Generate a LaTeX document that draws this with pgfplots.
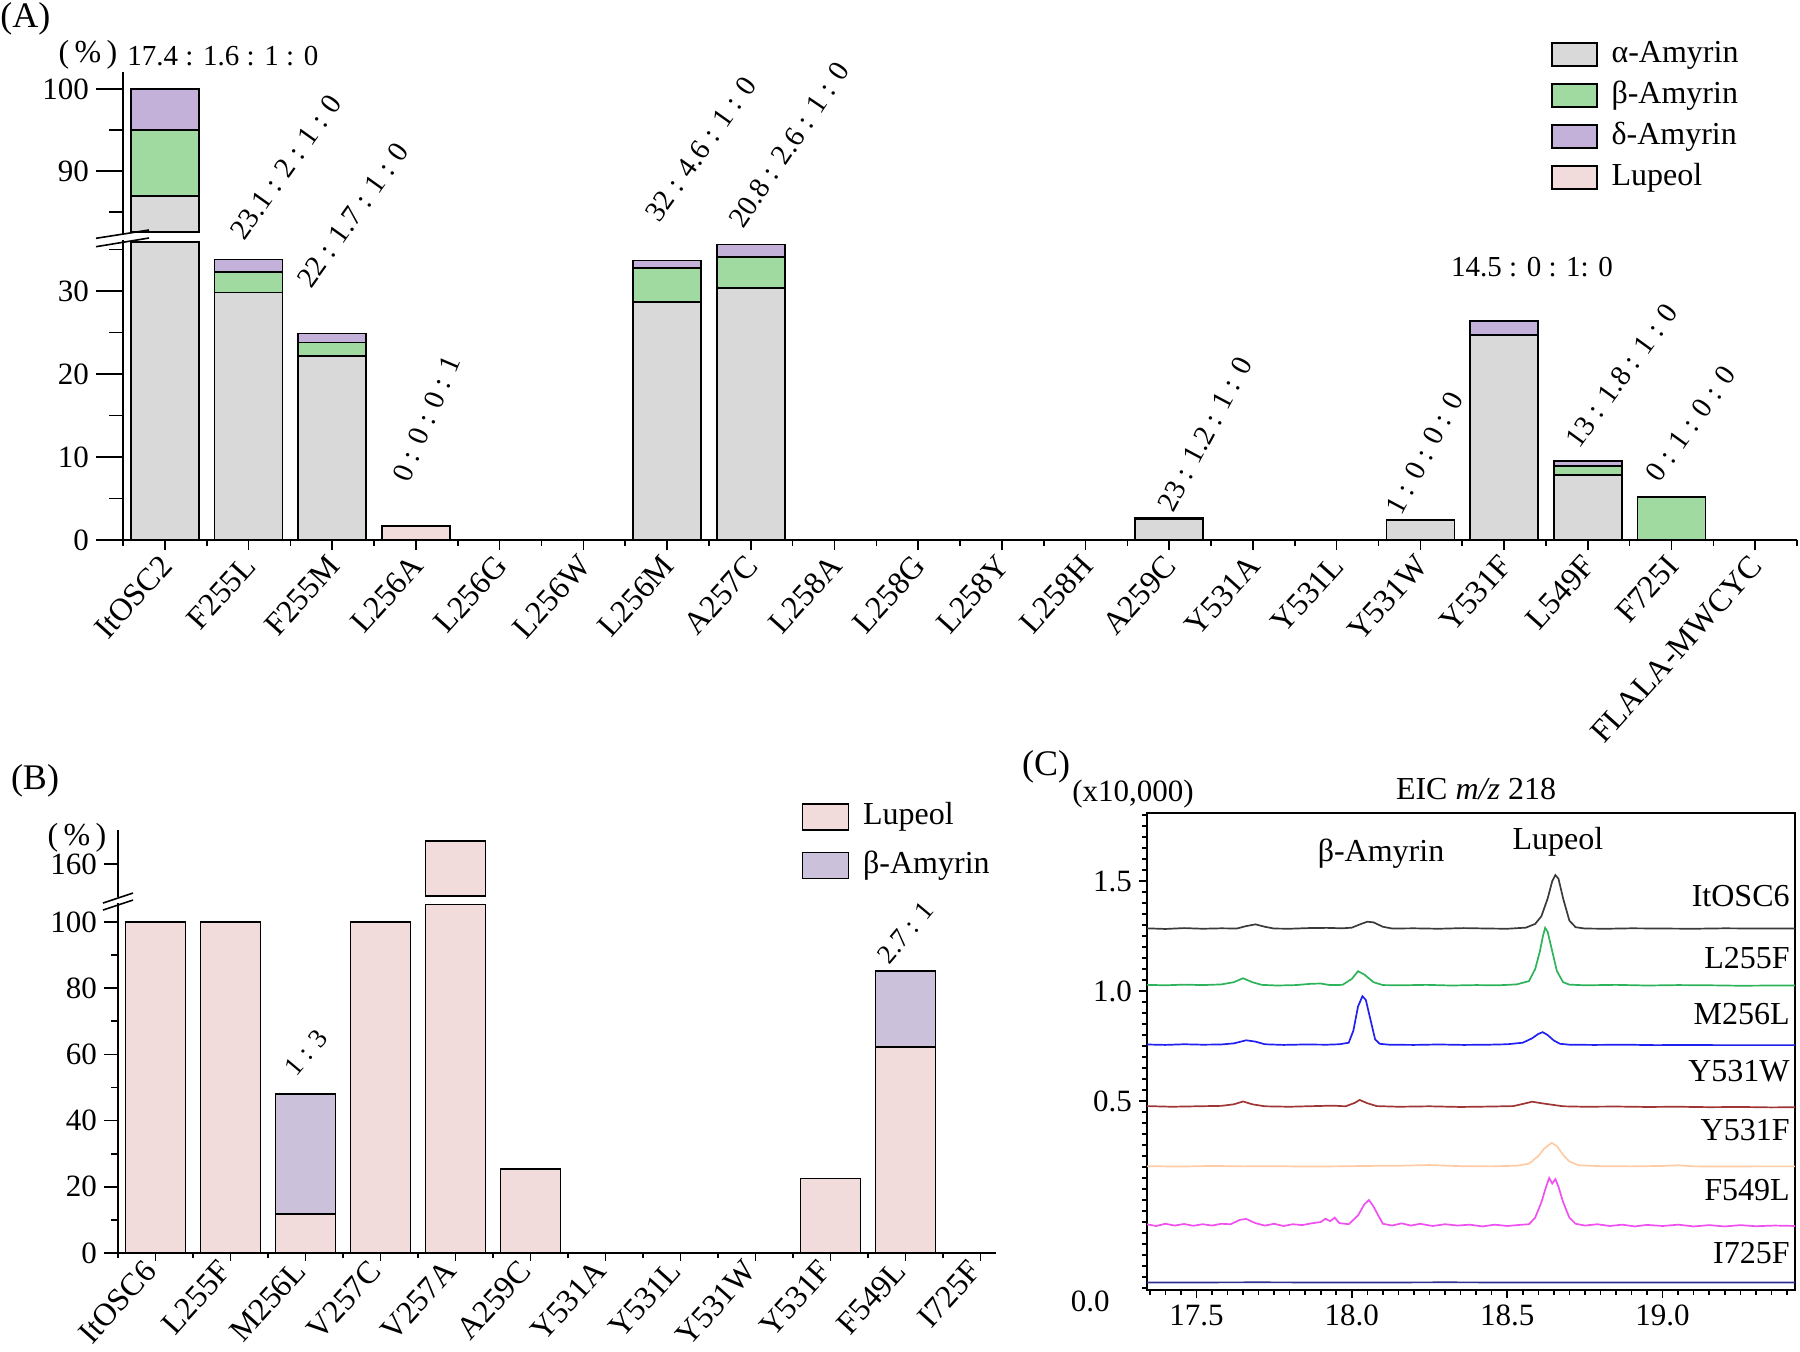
\documentclass[border=0pt]{standalone}
\usepackage{pgfplots}
\usepackage{pgfplotstable}
\pgfplotsset{compat=1.18}
\usepackage{fontspec}
\setmainfont{Liberation Serif}

\definecolor{cgray}{HTML}{D9D9D9}
\definecolor{cgreen}{HTML}{A0DAA0}
\definecolor{cpurple}{HTML}{C3B1D9}
\definecolor{cpink}{HTML}{F2DCDB}
\definecolor{cpurpleB}{HTML}{CCC1DA}
\definecolor{tk}{HTML}{3A3A3A}
\definecolor{tgreen}{HTML}{2DB35A}
\definecolor{tblue}{HTML}{2020F0}
\definecolor{tred}{HTML}{A03535}
\definecolor{tpeach}{HTML}{FFCBA4}
\definecolor{tmag}{HTML}{F050F0}
\definecolor{tnavy}{HTML}{303090}

\newcommand{\tfont}{\fontsize{16}{19}\selectfont}
\newcommand{\afont}{\fontsize{14.5}{17}\selectfont}
\newcommand{\bfontr}{\fontsize{13.5}{16}\selectfont}
\newcommand{\tkfont}{\fontsize{15.5}{18}\selectfont}
\newcommand{\pfont}{\fontsize{18}{21}\selectfont}

\pgfplotsset{
  myaxis/.style={scale only axis, anchor=south west, tick align=outside,
    axis line style={line width=1pt},
    every tick/.append style={black, line width=0.8pt},
    ticklabel style={font=\tkfont},
    /pgf/number format/assume math mode=true},
  boxlegendA/.style={legend image code/.code={\draw[##1,/tikz/.cd,line width=0.8pt] (0pt,-5.75pt) rectangle (22.5pt,5.75pt);}},
  boxlegendB/.style={legend image code/.code={\draw[##1,/tikz/.cd,line width=0.8pt] (0pt,-6.5pt) rectangle (23pt,6.5pt);}},
  barA/.style={draw=black, line width=0.8pt},
}

% Panel A (percent): alpha, beta, delta amyrin, lupeol
% ItOSC2 alpha = 87, truncated at the axis break (35.9) in the lower part
\pgfplotstableread{
x a b d l
0 35.9 0 0 0
1 29.8 2.5 1.5 0
2 22.2 1.6 1.1 0
3 0 0 0 1.7
4 0 0 0 0
5 0 0 0 0
6 28.7 4.1 0.9 0
7 30.4 3.7 1.5 0
8 0 0 0 0
9 0 0 0 0
10 0 0 0 0
11 0 0 0 0
12 2.45 0.13 0.11 0
13 0 0 0 0
14 0 0 0 0
15 2.4 0 0 0
16 24.7 0 1.7 0
17 7.8 1.1 0.65 0
18 0 5.2 0 0
19 0 0 0 0
}\dataA
\pgfplotstableread{
x a b d
0 87 8 5
}\dataAtop

% Panel B (percent): lupeol, beta-amyrin; V257A = 167, truncated at the break in the lower part
\pgfplotstableread{
x l b
0 100 0
1 100 0
2 11.8 36.2
3 100 0
4 105.3 0
5 25.3 0
6 0 0
7 0 0
8 0 0
9 22.5 0
10 62.2 23.0
11 0 0
}\dataB
\pgfplotstableread{
x l
4 167
}\dataBtop

\begin{document}
\begin{tikzpicture}
\useasboundingbox (0,0) rectangle (900pt,-675.5pt);

% ================= Panel A =================
% lower y axis
\begin{axis}[myaxis, at={(61.5pt,-270pt)}, width=837pt, height=149.8pt,
  xmin=-0.5, xmax=19.5, ymin=0, ymax=36.1,
  axis x line=none, axis y line*=left, xtick=\empty,
  ytick={0,10,20,30}, minor ytick={5,15,25,35},
  major tick length=13.5pt, minor tick length=7pt]
\end{axis}
% lower x axis with bars
\begin{axis}[myaxis, at={(61.5pt,-270pt)}, width=837pt, height=149.8pt,
  xmin=-0.5, xmax=19.5, ymin=0, ymax=36.1,
  axis y line=none, axis x line*=bottom, ytick=\empty,
  xtick={0,...,19},
  xticklabels={ItOSC2,F255L,F255M,L256A,L256G,L256W,L256M,A257C,L258A,L258G,L258Y,L258H,A259C,Y531A,Y531L,Y531W,Y531F,L549F,F725I,FLALA-MWCYC},
  minor xtick={-0.5,0.5,...,19.5},
  major tick length=5pt, minor tick length=3pt,
  xticklabel style={rotate=48, anchor=east, font=\tfont, yshift=-4pt},
  ybar stacked, bar width=34pt,
  every axis plot post/.append style={boxlegendA},
  legend cell align=left,
  legend style={at={(axis description cs:0.853,1.681)}, anchor=north west,
    draw=none, fill=none, inner sep=0pt, outer sep=0pt, font=\tfont,
    row sep=2.5pt, column sep=6pt,
    nodes={inner sep=1pt, text height=12pt, text depth=4pt}}]
\addplot[fill=cgray, barA] table[x=x,y=a] {\dataA};
\addplot[fill=cgreen, barA] table[x=x,y=b] {\dataA};
\addplot[fill=cpurple, barA] table[x=x,y=d] {\dataA};
\addplot[fill=cpink, barA] table[x=x,y=l] {\dataA};
\legend{α-Amyrin,β-Amyrin,δ-Amyrin,Lupeol}
\end{axis}
% upper part (above the break)
\begin{axis}[myaxis, at={(61.5pt,-116.75pt)}, width=837pt, height=80.9pt,
  xmin=-0.5, xmax=19.5, ymin=82.4, ymax=102.1,
  axis x line=none, axis y line*=left, xtick=\empty,
  ytick={90,100}, minor ytick={85,95},
  major tick length=13.5pt, minor tick length=7pt,
  ybar stacked, bar width=34pt]
\addplot[draw=none, fill=none] coordinates {(0,82.6)};
\addplot[fill=cgray, barA] table[x=x, y expr=\thisrow{a}-82.6] {\dataAtop};
\addplot[fill=cgreen, barA] table[x=x,y=b] {\dataAtop};
\addplot[fill=cpurple, barA] table[x=x,y=d] {\dataAtop};
\end{axis}
\draw[line width=0.8pt] (48pt,-119.15pt) -- (74.5pt,-115pt);
\draw[line width=0.8pt] (48pt,-123.35pt) -- (74.5pt,-119pt);

\node[font=\pfont, anchor=west, inner sep=0pt] at (0pt,-9.5pt) {(A)};
\node[font=\tfont, inner sep=0pt] at (44pt,-27.5pt) {(\,\%\,)};
\node[font=\afont, anchor=west, inner sep=0pt] at (63.5pt,-28pt) {17.4 : 1.6 : 1 : 0};
\node[font=\afont, anchor=south west, inner sep=0pt, rotate=54.5] at (122.5pt,-121pt) {23.1 : 2 : 1 : 0};
\node[font=\afont, anchor=south west, inner sep=0pt, rotate=54.5] at (156pt,-145pt) {22 : 1.7 : 1 : 0};
\node[font=\afont, anchor=south west, inner sep=0pt, rotate=67] at (205pt,-242pt) {0 : 0 : 0 : 1};
\node[font=\afont, anchor=south west, inner sep=0pt, rotate=54.6] at (330pt,-112pt) {32 : 4.6 : 1 : 0};
\node[font=\afont, anchor=south west, inner sep=0pt, rotate=56] at (372pt,-115pt) {20.8 : 2.6 : 1 : 0};
\node[font=\afont, anchor=south west, inner sep=0pt, rotate=62] at (587pt,-257pt) {23 : 1.2 : 1 : 0};
\node[font=\afont, anchor=south west, inner sep=0pt, rotate=62] at (701pt,-258.5pt) {1 : 0 : 0 : 0};
\node[font=\afont, inner sep=0pt] at (766pt,-133.5pt) {14.5 : 0 : 1: 0};
\node[font=\afont, anchor=south west, inner sep=0pt, rotate=54] at (790pt,-225pt) {13 : 1.8 : 1 : 0};
\node[font=\afont, anchor=south west, inner sep=0pt, rotate=54.4] at (830pt,-242pt) {0 : 1 : 0 : 0};

% ================= Panel B =================
\begin{axis}[myaxis, at={(59pt,-626.5pt)}, width=438.75pt, height=174.8pt,
  xmin=-0.5, xmax=11.2, ymin=0, ymax=105.6,
  axis x line=none, axis y line*=left, xtick=\empty,
  ytick={0,20,...,100}, minor ytick={10,30,...,90},
  major tick length=7pt, minor tick length=3.5pt]
\end{axis}
\begin{axis}[myaxis, at={(59pt,-626.5pt)}, width=438.75pt, height=174.8pt,
  xmin=-0.5, xmax=11.2, ymin=0, ymax=105.6,
  axis y line=none, axis x line*=bottom, ytick=\empty,
  xtick={0,...,11},
  xticklabels={ItOSC6,L255F,M256L,V257C,V257A,A259C,Y531A,Y531L,Y531W,Y531F,F549L,I725F},
  minor xtick={-0.5,0.5,...,10.5},
  major tick length=4pt, minor tick length=2.5pt,
  xticklabel style={rotate=48, anchor=east, font=\tfont, yshift=0.5pt},
  ybar stacked, bar width=30pt,
  every axis plot post/.append style={boxlegendB},
  legend cell align=left,
  legend style={at={(axis description cs:0.779,1.299)}, anchor=north west,
    draw=none, fill=none, inner sep=0pt, outer sep=0pt, font=\tfont,
    row sep=6.25pt, column sep=6pt,
    nodes={inner sep=1pt, text height=12pt, text depth=4pt}}]
\addplot[fill=cpink, barA] table[x=x,y=l] {\dataB};
\addplot[fill=cpurpleB, barA] table[x=x,y=b] {\dataB};
\legend{Lupeol,β-Amyrin}
\end{axis}
\begin{axis}[myaxis, at={(59pt,-448.5pt)}, width=438.75pt, height=33.4pt,
  xmin=-0.5, xmax=11.2, ymin=150, ymax=170.2,
  axis x line=none, axis y line*=left, xtick=\empty,
  ytick={160}, major tick length=7pt,
  ybar stacked, bar width=30pt]
\addplot[draw=none, fill=none] coordinates {(4,150.3)};
\addplot[fill=cpink, barA] table[x=x, y expr=\thisrow{l}-150.3] {\dataBtop};
\end{axis}
\draw[line width=0.8pt] (51.5pt,-451.5pt) -- (66.5pt,-446.5pt);
\draw[line width=0.8pt] (51.5pt,-455pt) -- (66.5pt,-450pt);

\node[font=\pfont, inner sep=0pt] at (17.5pt,-390.5pt) {(B)};
\node[font=\tfont, inner sep=0pt] at (38.5pt,-419pt) {(\,\%\,)};
\node[font=\bfontr, anchor=south west, inner sep=0pt, rotate=50] at (148.5pt,-539pt) {1 : 3};
\node[font=\bfontr, anchor=south west, inner sep=0pt, rotate=50] at (445pt,-483pt) {2.7 : 1};

% ================= Panel C =================
\begin{axis}[myaxis, at={(573.5pt,-645pt)}, width=324pt, height=238.5pt,
  xmin=17.341, xmax=19.426, ymin=-0.359, ymax=1.809,
  axis line style={line width=0.8pt},
  tick pos=left, no markers,
  xtick={17.5,18,18.5,19}, ytick={0.5,1,1.5},
  minor xtick={17.35,17.4,...,19.41},
  minor ytick={-0.35,-0.3,...,1.81},
  major tick length=4pt, minor tick length=2.5pt,
  xticklabel style={/pgf/number format/.cd, fixed, fixed zerofill, precision=1},
  yticklabel style={/pgf/number format/.cd, fixed, fixed zerofill, precision=1},
  ticklabel style={font=\tkfont},
  every axis plot/.append style={line width=0.85pt}]
% ItOSC6
\addplot[tk] coordinates {(17.34,1.285) (17.40,1.282) (17.46,1.286) (17.52,1.283) (17.58,1.285) (17.63,1.284) (17.66,1.295) (17.69,1.303) (17.72,1.292) (17.75,1.284) (17.80,1.283) (17.86,1.286) (17.92,1.287) (17.97,1.285) (18.00,1.288) (18.03,1.305) (18.05,1.315) (18.07,1.312) (18.10,1.292) (18.13,1.284) (18.20,1.285) (18.28,1.283) (18.36,1.286) (18.44,1.284) (18.50,1.283) (18.56,1.288) (18.59,1.305) (18.61,1.34) (18.63,1.42) (18.645,1.50) (18.655,1.527) (18.665,1.51) (18.68,1.42) (18.70,1.32) (18.72,1.29) (18.75,1.284) (18.82,1.283) (18.90,1.285) (19.00,1.284) (19.10,1.283) (19.20,1.285) (19.30,1.284) (19.43,1.284)};
% L255F
\addplot[tgreen] coordinates {(17.34,1.028) (17.40,1.026) (17.46,1.029) (17.52,1.027) (17.58,1.030) (17.62,1.040) (17.65,1.058) (17.68,1.040) (17.71,1.028) (17.76,1.025) (17.82,1.027) (17.87,1.033) (17.90,1.034) (17.93,1.027) (17.97,1.028) (18.00,1.055) (18.02,1.090) (18.04,1.075) (18.07,1.040) (18.10,1.027) (18.16,1.026) (18.24,1.028) (18.32,1.025) (18.40,1.027) (18.47,1.026) (18.53,1.030) (18.57,1.045) (18.59,1.10) (18.605,1.18) (18.615,1.25) (18.622,1.287) (18.63,1.27) (18.645,1.18) (18.66,1.09) (18.68,1.04) (18.70,1.029) (18.75,1.026) (18.85,1.028) (18.95,1.025) (19.05,1.027) (19.15,1.026) (19.25,1.024) (19.35,1.025) (19.43,1.025)};
% M256L
\addplot[tblue] coordinates {(17.34,0.757) (17.40,0.755) (17.46,0.758) (17.52,0.756) (17.58,0.757) (17.62,0.762) (17.66,0.776) (17.69,0.770) (17.72,0.758) (17.78,0.755) (17.85,0.757) (17.92,0.756) (17.96,0.758) (17.99,0.765) (18.005,0.82) (18.02,0.93) (18.034,0.976) (18.045,0.96) (18.06,0.87) (18.075,0.78) (18.09,0.760) (18.12,0.756) (18.20,0.755) (18.28,0.757) (18.36,0.755) (18.44,0.756) (18.50,0.758) (18.55,0.765) (18.58,0.785) (18.60,0.805) (18.614,0.813) (18.63,0.800) (18.65,0.775) (18.67,0.760) (18.70,0.756) (18.78,0.755) (18.88,0.756) (18.98,0.754) (19.08,0.755) (19.18,0.754) (19.30,0.754) (19.43,0.754)};
% Y531W
\addplot[tred] coordinates {(17.34,0.477) (17.42,0.474) (17.50,0.476) (17.58,0.478) (17.62,0.485) (17.65,0.498) (17.68,0.485) (17.72,0.476) (17.80,0.474) (17.88,0.477) (17.94,0.479) (17.98,0.476) (18.01,0.492) (18.025,0.505) (18.05,0.490) (18.08,0.477) (18.15,0.474) (18.25,0.476) (18.35,0.473) (18.45,0.475) (18.52,0.477) (18.56,0.490) (18.58,0.497) (18.61,0.490) (18.64,0.484) (18.68,0.476) (18.75,0.474) (18.85,0.475) (18.95,0.473) (19.05,0.474) (19.15,0.472) (19.25,0.473) (19.35,0.471) (19.43,0.472)};
% Y531F
\addplot[tpeach] coordinates {(17.34,0.204) (17.45,0.202) (17.55,0.205) (17.65,0.203) (17.75,0.204) (17.85,0.202) (17.95,0.203) (18.05,0.205) (18.15,0.206) (18.25,0.209) (18.35,0.204) (18.45,0.203) (18.53,0.206) (18.57,0.215) (18.60,0.250) (18.62,0.285) (18.643,0.31) (18.66,0.295) (18.68,0.255) (18.70,0.225) (18.73,0.208) (18.80,0.204) (18.90,0.203) (19.00,0.205) (19.05,0.208) (19.10,0.203) (19.20,0.202) (19.30,0.203) (19.43,0.203)};
% F549L
\addplot[tmag] coordinates {(17.34,-0.060) (17.37,-0.068) (17.40,-0.058) (17.43,-0.066) (17.46,-0.059) (17.49,-0.067) (17.52,-0.060) (17.55,-0.066) (17.58,-0.058) (17.61,-0.060) (17.64,-0.040) (17.66,-0.036) (17.69,-0.055) (17.72,-0.066) (17.75,-0.058) (17.78,-0.068) (17.81,-0.060) (17.84,-0.064) (17.87,-0.056) (17.90,-0.050) (17.915,-0.035) (17.93,-0.046) (17.945,-0.030) (17.96,-0.055) (17.99,-0.060) (18.02,-0.020) (18.04,0.030) (18.055,0.050) (18.07,0.020) (18.085,-0.020) (18.10,-0.058) (18.13,-0.066) (18.16,-0.056) (18.19,-0.066) (18.22,-0.058) (18.26,-0.068) (18.30,-0.060) (18.34,-0.066) (18.38,-0.062) (18.42,-0.070) (18.46,-0.062) (18.50,-0.068) (18.54,-0.063) (18.57,-0.060) (18.59,-0.030) (18.61,0.040) (18.625,0.110) (18.635,0.150) (18.645,0.125) (18.655,0.145) (18.665,0.110) (18.68,0.040) (18.70,-0.030) (18.72,-0.058) (18.75,-0.066) (18.79,-0.060) (18.83,-0.068) (18.87,-0.062) (18.91,-0.070) (18.95,-0.063) (19.00,-0.068) (19.05,-0.062) (19.10,-0.070) (19.15,-0.064) (19.20,-0.070) (19.25,-0.064) (19.30,-0.069) (19.36,-0.066) (19.43,-0.068)};
% I725F
\addplot[tnavy] coordinates {(17.34,-0.325) (17.70,-0.324) (18.00,-0.325) (18.30,-0.324) (18.60,-0.325) (19.00,-0.325) (19.43,-0.325)};
\end{axis}

\node[font=\pfont, inner sep=0pt] at (523pt,-383.5pt) {(C)};
\node[font=\tkfont, inner sep=0pt] at (566.5pt,-397pt) {(x10,000)};
\node[font=\tfont, inner sep=0pt] at (738pt,-394.5pt) {EIC \textit{m/z} 218};
\node[font=\tfont, inner sep=0pt] at (690.5pt,-427pt) {β-Amyrin};
\node[font=\tfont, inner sep=0pt] at (779pt,-421pt) {Lupeol};
\node[font=\tkfont, anchor=east, inner sep=0pt] at (555pt,-650.5pt) {0.0};
\node[font=\tfont, anchor=east, inner sep=0pt] at (895pt,-448pt) {ItOSC6};
\node[font=\tfont, anchor=east, inner sep=0pt] at (895pt,-479pt) {L255F};
\node[font=\tfont, anchor=east, inner sep=0pt] at (895pt,-507pt) {M256L};
\node[font=\tfont, anchor=east, inner sep=0pt] at (895pt,-535.5pt) {Y531W};
\node[font=\tfont, anchor=east, inner sep=0pt] at (895pt,-565pt) {Y531F};
\node[font=\tfont, anchor=east, inner sep=0pt] at (895pt,-595pt) {F549L};
\node[font=\tfont, anchor=east, inner sep=0pt] at (895pt,-626.5pt) {I725F};
\end{tikzpicture}
\end{document}
